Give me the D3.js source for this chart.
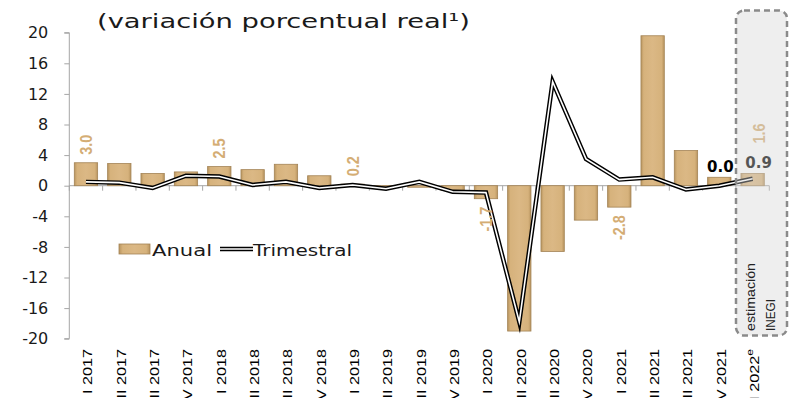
<!DOCTYPE html>
<html><head><meta charset="utf-8">
<script src="https://cdn.jsdelivr.net/npm/d3@7"></script>
<style>html,body{margin:0;padding:0;background:#fff;overflow:hidden}</style>
</head><body><svg id="c" width="793" height="398"></svg>
<script>
const categories = ["I 2017","II 2017","III 2017","IV 2017","I 2018","II 2018","III 2018","IV 2018",
  "I 2019","II 2019","III 2019","IV 2019","I 2020","II 2020","III 2020","IV 2020",
  "I 2021","II 2021","III 2021","IV 2021","I 2022"];
const anual = [3.0, 2.9, 1.6, 1.8, 2.5, 2.1, 2.8, 1.3, 0.2, -0.1, -0.2, -0.6, -1.7, -19.0, -8.6, -4.5, -2.8, 19.6, 4.6, 1.1, 1.6];
const trimestral = [0.5, 0.4, -0.3, 1.3, 1.2, 0.1, 0.5, -0.3, 0.1, -0.4, 0.5, -0.8, -0.9, -17.8, 13.6, 3.5, 0.8, 1.1, -0.5, 0.0, 0.9];
const yTicks = [20, 16, 12, 8, 4, 0, -4, -8, -12, -16, -20];
const anualLabelIdx = [0, 4, 8, 12, 16, 20];
const trimLabelIdx = [19, 20];
const titleText = "(variación porcentual real¹)";
const legendLabels = ["Anual", "Trimestral"];
const boxLabels = ["estimación", "INEGI"];
const estimateSuffix = "e";

const svg = d3.select("#c");
const defs = svg.append("defs");
const grad = defs.append("linearGradient").attr("id","barg").attr("x1","0").attr("x2","1").attr("y1","0").attr("y2","0");
[["0%","#b8945f"],["12%","#d6b27c"],["50%","#dbb885"],["88%","#d6b27c"],["100%","#b8945f"]]
  .forEach(([o,c]) => grad.append("stop").attr("offset",o).attr("stop-color",c));

const x = d3.scaleBand().domain(categories).range([69.3, 769.3]).paddingInner(0.3).paddingOuter(0.15);
const y = d3.scaleLinear().domain([-20, 20]).range([338.7, 32.7]);
const step = x.step();
const cx = c => x(c) + x.bandwidth() / 2;

// title
svg.append("text").attr("x", 97).attr("y", 28)
  .attr("font-family","DejaVu Sans").attr("font-size", 20).attr("fill","#1a1a1a")
  .attr("textLength", 373).attr("lengthAdjust","spacingAndGlyphs")
  .text(titleText);

// y axis
const yAxis = svg.append("g").attr("transform","translate(69.3,0)")
  .call(d3.axisLeft(y).tickValues(yTicks).tickSize(5).tickPadding(16).tickFormat(d3.format("d")));
yAxis.select(".domain").attr("stroke","#a6a6a6").attr("d", `M-5,${y(20)}H0V${y(-20)}H-5`);
yAxis.selectAll(".tick line").attr("stroke","#a6a6a6");
yAxis.selectAll(".tick text").attr("font-family","DejaVu Sans").attr("font-size",16).attr("fill","#1a1a1a")
  .text(d => d < 0 ? "-" + Math.abs(d) : d);

// x axis line at zero with ticks at band boundaries
const x0 = x.range()[0], x1 = x.range()[1];
svg.append("line").attr("x1", x0).attr("x2", x1).attr("y1", y(0)).attr("y2", y(0)).attr("stroke","#a6a6a6");
svg.append("g").selectAll("line").data(d3.range(categories.length + 1)).join("line")
  .attr("x1", i => x0 + i * step).attr("x2", i => x0 + i * step)
  .attr("y1", y(0)).attr("y2", y(0) + 5).attr("stroke","#a6a6a6");

// bars
svg.append("g").selectAll("rect").data(categories).join("rect")
  .attr("x", c => x(c)).attr("width", x.bandwidth())
  .attr("y", (c,i) => Math.min(y(anual[i]), y(0)))
  .attr("height", (c,i) => Math.abs(y(anual[i]) - y(0)))
  .attr("fill","url(#barg)").attr("stroke","#a38355").attr("stroke-width",0.8);

// trimestral line (double line)
const line = d3.line().x((d,i) => cx(categories[i])).y(d => y(d));
svg.append("path").datum(trimestral).attr("d", line).attr("fill","none")
  .attr("stroke","#000").attr("stroke-width",4.5).attr("stroke-linejoin","miter").attr("stroke-miterlimit",20);
svg.append("path").datum(trimestral).attr("d", line).attr("fill","none")
  .attr("stroke","#fff").attr("stroke-width",1.6).attr("stroke-linejoin","miter").attr("stroke-miterlimit",20);

// anual labels (rotated)
anualLabelIdx.forEach(i => {
  const v = anual[i];
  const last = i === categories.length - 1;
  const px = cx(categories[i]) + (last ? 6 : 0);
  const py = v >= 0 ? y(v) - (last ? 30 : 8) : y(v) + 8;
  svg.append("text")
    .attr("transform", `translate(${px},${py}) rotate(-90) scale(0.85,1)`)
    .attr("dy","0.35em").attr("text-anchor", v >= 0 ? "start" : "end")
    .attr("font-family","Liberation Sans").attr("font-weight","bold").attr("font-size",17)
    .attr("fill","#d4ad74").text(d3.format(".1f")(v).replace("−","-"));
});

// trimestral labels
const trimOffsets = {19: [1, -14], 20: [6, -10.5]};
trimLabelIdx.forEach(i => {
  const [dx, dy] = trimOffsets[i];
  svg.append("text").attr("x", cx(categories[i]) + dx).attr("y", y(trimestral[i]) + dy)
    .attr("text-anchor","middle").attr("font-family","DejaVu Sans").attr("font-weight","bold")
    .attr("font-size",15).attr("fill","#000").text(d3.format(".1f")(trimestral[i]));
});

// x labels
categories.forEach((c, i) => {
  const t = svg.append("text")
    .attr("transform", `translate(${cx(c) + 2},349) rotate(-90) scale(1.35,1)`)
    .attr("dy","0.35em").attr("text-anchor","end")
    .attr("font-family","Liberation Sans").attr("font-size",12).attr("fill","#000");
  t.append("tspan").text(c);
  if (i === categories.length - 1) {
    t.append("tspan").attr("font-size",9).attr("dy","-0.6em").text(estimateSuffix);
  }
});

// legend
const lg = svg.append("g");
lg.append("rect").attr("x",119).attr("y",244).attr("width",31).attr("height",10)
  .attr("fill","url(#barg)").attr("stroke","#a38355").attr("stroke-width",0.8);
lg.append("text").attr("x",152).attr("y",255.5).attr("font-family","DejaVu Sans").attr("font-size",16)
  .attr("fill","#1a1a1a").attr("textLength",60).attr("lengthAdjust","spacingAndGlyphs").text(legendLabels[0]);
lg.append("line").attr("x1",220).attr("x2",253).attr("y1",249).attr("y2",249).attr("stroke","#000").attr("stroke-width",4.5);
lg.append("line").attr("x1",220).attr("x2",253).attr("y1",249).attr("y2",249).attr("stroke","#fff").attr("stroke-width",1.6);
lg.append("text").attr("x",253).attr("y",255.5).attr("font-family","DejaVu Sans").attr("font-size",16)
  .attr("fill","#1a1a1a").attr("textLength",99).attr("lengthAdjust","spacingAndGlyphs").text(legendLabels[1]);

// estimate box overlay
svg.append("rect").attr("x",736).attr("y",10.5).attr("width",51).attr("height",325).attr("rx",8)
  .attr("fill","#d4d4d4").attr("fill-opacity",0.4)
  .attr("stroke","#8a8a8a").attr("stroke-width",2.5).attr("stroke-dasharray","6,4");
svg.append("text").attr("transform","translate(755,331) rotate(-90)")
  .attr("font-family","Liberation Sans").attr("font-size",13).attr("fill","#222")
  .attr("textLength",68).attr("lengthAdjust","spacingAndGlyphs").text(boxLabels[0]);
svg.append("text").attr("transform","translate(775,331) rotate(-90)")
  .attr("font-family","Liberation Sans").attr("font-size",13).attr("fill","#222")
  .attr("textLength",32).attr("lengthAdjust","spacingAndGlyphs").text(boxLabels[1]);
</script></body></html>
